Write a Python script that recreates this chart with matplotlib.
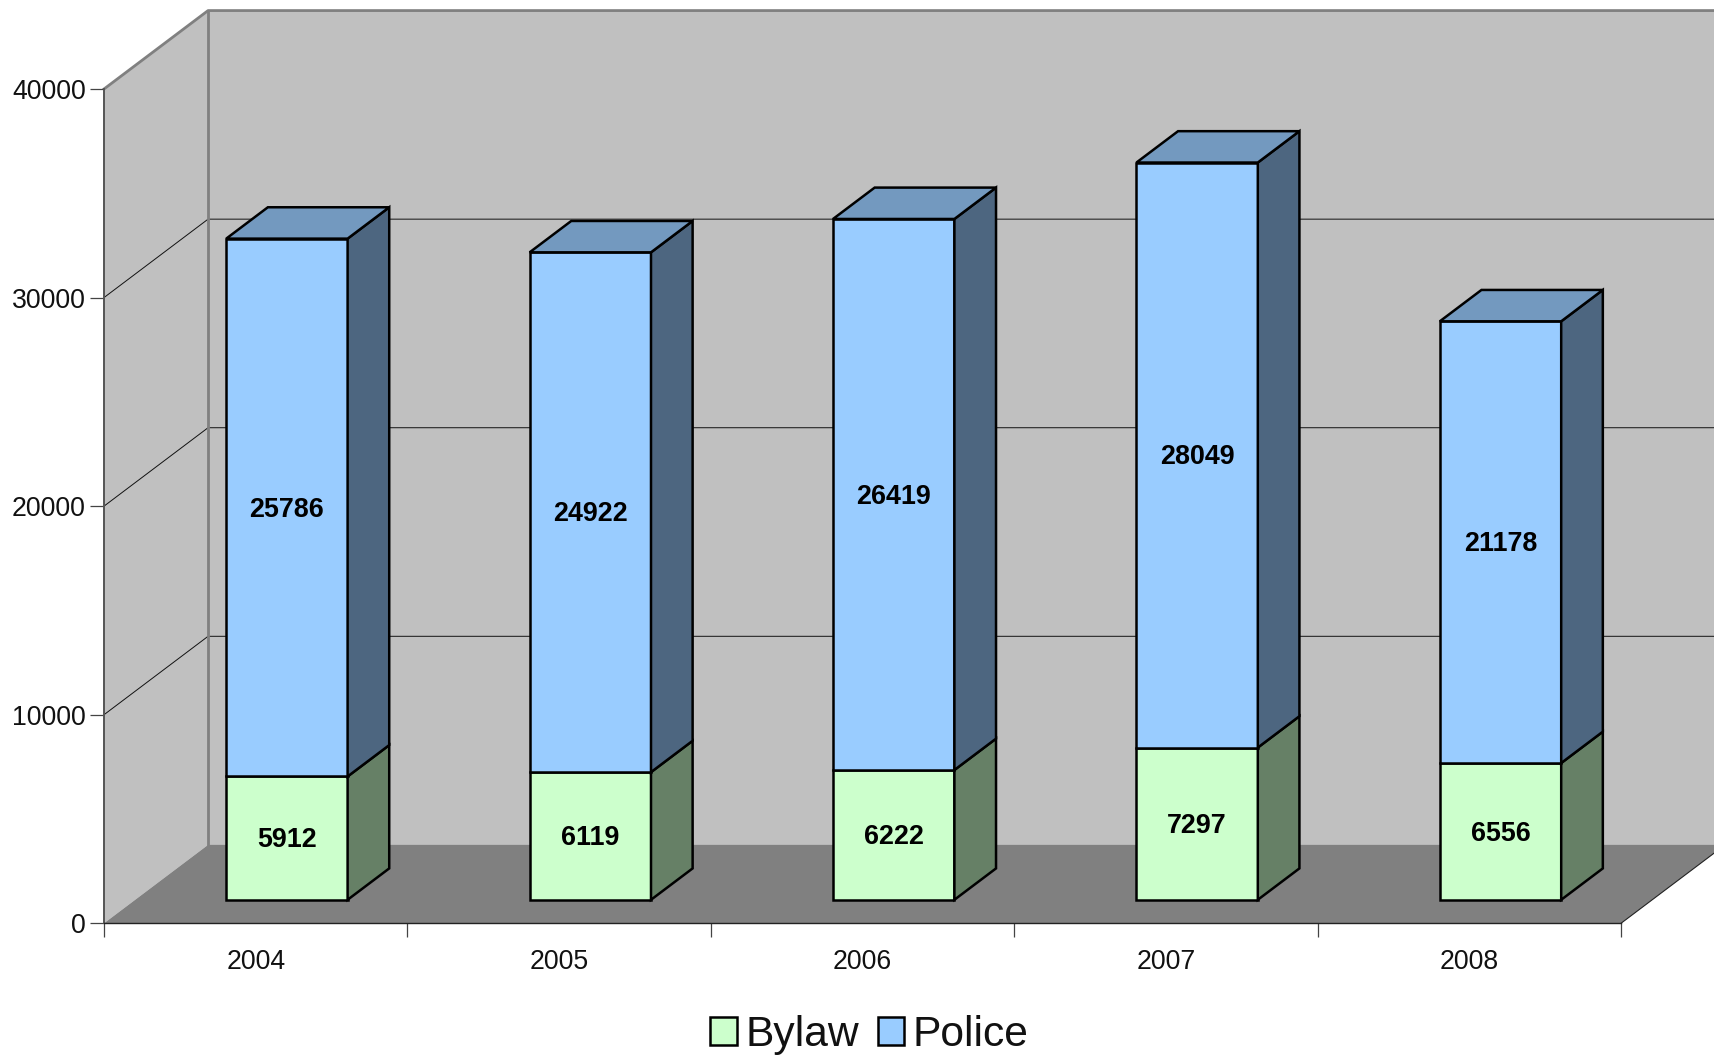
import numpy as np
from matplotlib import pyplot as plt
from matplotlib.patches import Patch

plt.rcParams['font.family'] = ['Liberation Sans', 'DejaVu Sans']

# Values
years = ['2004', '2005', '2006', '2007', '2008']
bylaw = [5912, 6119, 6222, 7297, 6556]
police = [25786, 24922, 26419, 28049, 21178]
y_ticks = [0, 10000, 20000, 30000, 40000]

# Fake 3D look: how far the back wall sits from the front plane, in data units
depth_x = 0.343
depth_y = 3760
bar_width = 0.4
bar_depth = 0.4
bar_front = 0.3  # bars start this fraction of the way into the depth

bylaw_col = ['#CCFFCC', '#668066', '#99BF99']
police_col = ['#99CCFF', '#4D6680', '#7399BF']
edge = 'black'
lw = 1.8

W, H = 1714, 1057
fig = plt.figure(figsize=(W / 100, H / 100), dpi=100)
ax = fig.add_axes([104 / W, 1 - 923.3 / H, (1621 - 104) / W, (923.3 - 89) / H])
ax.set_xlim(0, len(years))
ax.set_ylim(0, y_ticks[-1])
ax.patch.set_visible(False)
for side in ['top', 'right']:
    ax.spines[side].set_visible(False)
ax.spines['left'].set_color('#555555')
ax.spines['left'].set_linewidth(1.4)
ax.spines['bottom'].set_color('#222222')
ax.spines['bottom'].set_linewidth(1.0)

x_end = len(years)
y_top = y_ticks[-1]

# Walls and floor
ax.fill([0, depth_x, depth_x, 0], [0, depth_y, y_top + depth_y, y_top],
        color='#C0C0C0', lw=0, clip_on=False, zorder=0)
ax.fill([depth_x, x_end + depth_x, x_end + depth_x, depth_x],
        [depth_y, depth_y, y_top + depth_y, y_top + depth_y],
        color='#C0C0C0', lw=0, clip_on=False, zorder=0)
ax.fill([0, x_end, x_end + depth_x, depth_x], [0, 0, depth_y, depth_y],
        color='#808080', lw=0, clip_on=False, zorder=0.5)

# Gridlines run up the side wall and then along the back wall
for v in y_ticks[1:-1]:
    ax.plot([0, depth_x, x_end + depth_x], [v, v + depth_y, v + depth_y],
            color='#111111', lw=0.7, clip_on=False, zorder=1)

# Wall outline
ax.plot([0, depth_x, x_end + depth_x], [y_top, y_top + depth_y, y_top + depth_y],
        color='#808080', lw=2.0, clip_on=False, zorder=1.2)
ax.plot([depth_x, depth_x], [depth_y, y_top + depth_y],
        color='#808080', lw=2.0, clip_on=False, zorder=1.2)
ax.plot([x_end, x_end + depth_x], [0, depth_y],
        color='#222222', lw=0.8, clip_on=False, zorder=1.2)


def draw_segment(left, bottom, height, cols, top=False):
    dx = depth_x * bar_depth
    dy = depth_y * bar_depth
    right = left + bar_width
    ax.fill([left, right, right, left],
            [bottom, bottom, bottom + height, bottom + height],
            facecolor=cols[0], edgecolor=edge, lw=lw, clip_on=False, zorder=3,
            joinstyle='miter')
    ax.fill([right, right + dx, right + dx, right],
            [bottom, bottom + dy, bottom + height + dy, bottom + height],
            facecolor=cols[1], edgecolor=edge, lw=lw, clip_on=False, zorder=3,
            joinstyle='miter')
    if top:
        y1 = bottom + height
        ax.fill([left, right, right + dx, left + dx], [y1, y1, y1 + dy, y1 + dy],
                facecolor=cols[2], edgecolor=edge, lw=lw, clip_on=False, zorder=3,
                joinstyle='miter')


# Bars with their labels
off_x = depth_x * bar_front
off_y = depth_y * bar_front
label_nudge = 40  # labels sit a touch above the exact middle
for i in range(len(years)):
    left = i + 0.5 - bar_width / 2 + off_x
    draw_segment(left, off_y, bylaw[i], bylaw_col)
    draw_segment(left, off_y + bylaw[i], police[i], police_col, top=True)
    cx = left + bar_width / 2
    ax.text(cx, off_y + bylaw[i] / 2 + label_nudge, str(bylaw[i]), ha='center',
            va='center_baseline', fontsize=19.4, fontweight='bold', color='black', zorder=4)
    ax.text(cx, off_y + bylaw[i] + police[i] / 2 + label_nudge, str(police[i]), ha='center',
            va='center_baseline', fontsize=19.4, fontweight='bold', color='black', zorder=4)

# Axis ticks and labels
ax.set_yticks(y_ticks)
ax.set_yticklabels([str(v) for v in y_ticks], fontsize=19.2, color='#111111')
ax.tick_params(axis='y', length=10, width=0.9, color='#444444', pad=3)
ax.set_xticks(np.arange(len(years) + 1))
ax.set_xticklabels([])
ax.tick_params(axis='x', which='major', length=10, width=0.9, color='#444444')
ax.set_xticks(np.arange(len(years)) + 0.5, minor=True)
ax.set_xticklabels(years, minor=True, fontsize=19.2, color='#111111')
ax.tick_params(axis='x', which='minor', length=0, pad=18.5)

handles = [Patch(facecolor=bylaw_col[0], edgecolor=edge, lw=1.8, label='Bylaw'),
           Patch(facecolor=police_col[0], edgecolor=edge, lw=1.8, label='Police')]
fig.legend(handles=handles, loc='center', bbox_to_anchor=(869.5 / W, 1 - 1035 / H),
           ncol=2, frameon=False, fontsize=30.7, handlelength=0.62, handleheight=0.64,
           handletextpad=0.2, columnspacing=0.45, borderpad=0, labelcolor='#111111')

plt.savefig('out.png', dpi=100)
